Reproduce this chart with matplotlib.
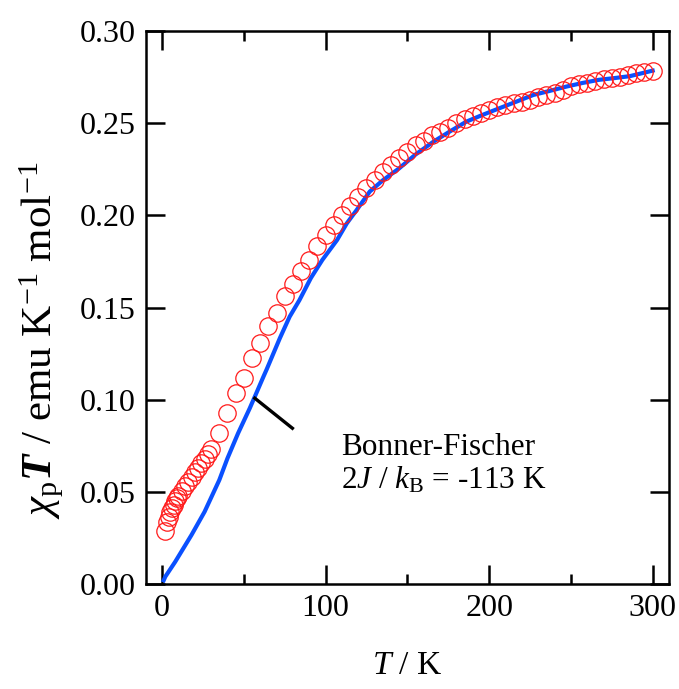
import matplotlib
matplotlib.use("Agg")
import matplotlib.pyplot as plt
from matplotlib.ticker import MultipleLocator, FormatStrFormatter

plt.rcParams['font.family'] = ['Liberation Serif', 'DejaVu Serif']
plt.rcParams['mathtext.fontset'] = 'custom'
plt.rcParams['mathtext.rm'] = 'Liberation Serif'
plt.rcParams['mathtext.it'] = 'Liberation Serif:italic'
plt.rcParams['mathtext.bf'] = 'Liberation Serif:bold'
plt.rcParams['mathtext.bfit'] = 'Liberation Serif:bold:italic'

# measured chi_p T (open circles)
T_exp = [1.8, 3, 4, 5, 6, 7, 8, 9, 10, 12, 14, 16, 18, 20, 22, 24, 26, 28, 30,
         35, 40, 45, 50, 55, 60, 65, 70, 75, 80, 85, 90, 95, 100, 105, 110, 115,
         120, 125, 130, 135, 140, 145, 150, 155, 160, 165, 170, 175, 180, 185,
         190, 195, 200, 205, 210, 215, 220, 225, 230, 235, 240, 245, 250, 255,
         260, 265, 270, 275, 280, 285, 290, 295, 300]
chiT_exp = [0.0285, 0.0335, 0.0365, 0.039, 0.041, 0.043, 0.0448, 0.0465, 0.048,
            0.0505, 0.053, 0.0555, 0.058, 0.0605, 0.063, 0.0655, 0.068, 0.0705,
            0.073, 0.0818, 0.093, 0.1035, 0.112, 0.1225, 0.131, 0.140, 0.147,
            0.156, 0.1626, 0.170, 0.1758, 0.1836, 0.1894, 0.195, 0.2002, 0.2049,
            0.2098, 0.2147, 0.219, 0.2235, 0.2275, 0.231, 0.2346, 0.238, 0.2403,
            0.2436, 0.2454, 0.2475, 0.2503, 0.2521, 0.2539, 0.2554, 0.2572,
            0.2586, 0.2599, 0.2608, 0.2615, 0.2625, 0.2644, 0.2653, 0.2666,
            0.268, 0.270, 0.2713, 0.272, 0.273, 0.2738, 0.2745, 0.2753, 0.276,
            0.2771, 0.278, 0.2785]

# Bonner-Fischer fit (blue line)
T_fit = [1, 2, 8, 18, 26, 35, 40, 46.5, 53.6, 56.7, 62, 64, 72, 78, 84, 91, 98,
         107, 113, 119, 127, 135, 145, 155, 166, 176, 186, 196, 206, 217, 227,
         237, 247, 257, 267, 277, 286, 300]
chiT_fit = [0.002, 0.004, 0.012, 0.0266, 0.0392, 0.0564, 0.0682, 0.0818, 0.0953,
            0.1016, 0.1125, 0.1165, 0.1333, 0.145, 0.154, 0.166, 0.1758, 0.1866,
            0.1957, 0.2029, 0.2129, 0.219, 0.2255, 0.233, 0.240, 0.2455, 0.2508,
            0.2545, 0.258, 0.2618, 0.2653, 0.2675, 0.2698, 0.2718, 0.2735,
            0.2745, 0.2755, 0.2785]

# annotation pointer
ptr_T = [56.7, 79.7]
ptr_y = [0.1008, 0.0845]

fig = plt.figure(figsize=(6.79, 6.89), dpi=100)
ax = fig.add_axes([0.2146, 0.1524, 0.9853 - 0.2146, 0.955 - 0.1524])

ax.plot(T_exp, chiT_exp, 'o', mfc='none', mec='#ff1a1a', ms=12.5, mew=0.9,
        zorder=3)
ax.plot(T_fit, chiT_fit, '-', color='#0a50ff', lw=3.0, zorder=2)
ax.plot(ptr_T, ptr_y, '-', color='black', lw=2.4, zorder=4)

ax.text(109.7, 0.070, 'Bonner-Fischer', fontsize=22.5, va='baseline', ha='left')
ax.text(109.7, 0.052, r'2$J$ / $k_\mathrm{B}$ = -113 K', fontsize=22.5,
        va='baseline', ha='left')

ax.set_xlim(-10, 310)
ax.set_ylim(0, 0.30)
ax.xaxis.set_major_locator(MultipleLocator(100))
ax.xaxis.set_minor_locator(MultipleLocator(50))
ax.yaxis.set_major_locator(MultipleLocator(0.05))
ax.yaxis.set_major_formatter(FormatStrFormatter('%.2f'))

ax.tick_params(which='both', direction='in', top=True, right=True,
               width=1.8, labelsize=23, pad=7)
ax.tick_params(which='major', length=14)
ax.tick_params(which='minor', length=7.5)
for s in ax.spines.values():
    s.set_linewidth(1.8)

ax.set_xlabel(r'$T$ / K', fontsize=24, labelpad=20)
ax.set_ylabel(r'$\chi_\mathrm{p}\mathbfit{T}$ / emu K$^{-1}$ mol$^{-1}$',
              fontsize=31)
ax.yaxis.set_label_coords(-0.152, 0.44)

fig.savefig('out.png', dpi=100)
